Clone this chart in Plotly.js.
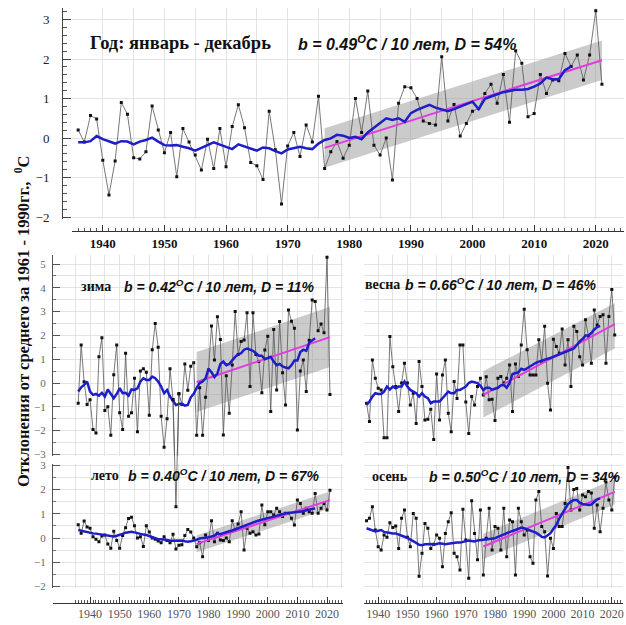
<!DOCTYPE html>
<html><head><meta charset="utf-8">
<script src="https://cdn.plot.ly/plotly-3.0.1.min.js"></script>
<style>html,body{margin:0;padding:0;background:#fff}#chart{width:626px;height:625px}</style>
</head><body><div id="chart"></div><script>
// ---------------- DATA ----------------
const years = [1936,1937,1938,1939,1940,1941,1942,1943,1944,1945,1946,1947,1948,1949,1950,1951,1952,1953,1954,1955,1956,1957,1958,1959,1960,1961,1962,1963,1964,1965,1966,1967,1968,1969,1970,1971,1972,1973,1974,1975,1976,1977,1978,1979,1980,1981,1982,1983,1984,1985,1986,1987,1988,1989,1990,1991,1992,1993,1994,1995,1996,1997,1998,1999,2000,2001,2002,2003,2004,2005,2006,2007,2008,2009,2010,2011,2012,2013,2014,2015,2016,2017,2018,2019,2020,2021];
const smoothYears = [1936,1937,1938,1939,1940,1941,1942,1943,1944,1945,1946,1947,1948,1949,1950,1951,1952,1953,1954,1955,1956,1957,1958,1959,1960,1961,1962,1963,1964,1965,1966,1967,1968,1969,1970,1971,1972,1973,1974,1975,1976,1977,1978,1979,1980,1981,1982,1983,1984,1985,1986,1987,1988,1989,1990,1991,1992,1993,1994,1995,1996,1997,1998,1999,2000,2001,2002,2003,2004,2005,2006,2007,2008,2009,2010,2011,2012,2013,2014,2015,2016];
const trendYears = [1976, 2021];

// Год
const annual = [0.20,-0.10,0.57,0.48,-0.56,-1.44,-0.58,0.90,0.60,-0.50,-0.53,-0.35,0.81,0.20,-0.37,0.14,-0.98,0.24,-0.10,-0.43,-0.81,-0.03,-0.77,0.24,-0.73,0.29,0.84,0.26,-0.62,-0.70,-1.05,0.68,-0.30,-1.67,-0.20,0.14,-0.47,0.33,-0.10,1.06,-0.77,-0.35,-0.09,-0.51,-0.18,1.00,0.14,1.19,-0.18,-0.43,0.00,-1.06,0.88,1.30,1.27,1.00,0.43,0.37,0.33,2.06,0.43,0.85,0.05,0.37,0.68,0.75,1.13,1.36,0.88,1.61,0.40,2.21,1.89,0.54,0.62,1.61,1.13,1.47,1.45,2.14,1.81,2.10,1.47,2.10,3.22,1.36];
const annualSmooth = [-0.11,-0.11,-0.08,0.05,-0.03,-0.08,-0.14,-0.08,-0.09,-0.16,-0.09,-0.05,0.01,-0.09,-0.18,-0.19,-0.18,-0.22,-0.26,-0.32,-0.24,-0.18,-0.11,-0.16,-0.22,-0.28,-0.16,-0.22,-0.26,-0.32,-0.24,-0.26,-0.33,-0.39,-0.29,-0.26,-0.22,-0.26,-0.28,-0.14,-0.05,-0.01,0.08,0.06,0.00,0.03,-0.03,0.14,0.26,0.37,0.50,0.46,0.50,0.41,0.63,0.71,0.77,0.84,0.77,0.73,0.68,0.73,0.79,0.85,0.92,0.73,0.99,1.05,1.11,1.16,1.19,1.22,1.22,1.24,1.30,1.38,1.53,1.49,1.49,1.72,1.81];
const annualTrend = [-0.25, 1.97];
const annualBandHi = [0.25, 2.47];
const annualBandLo = [-0.75, 1.47];

// зима
const winter = [-0.85,1.6,0.05,-0.9,-0.7,-1.95,-2.1,1.1,1.9,-1.15,-1.0,-2.2,0.35,1.6,-1.25,-1.95,1.25,-1.4,-1.25,0.2,-2.05,0.5,0.6,0.45,-1.35,1.4,2.5,1.5,-1.4,-2.7,-1.5,0.6,-0.7,-5.2,-0.45,-0.9,0.8,-0.3,0.7,0.85,-2.2,-0.2,-2.2,-0.6,0.55,2.4,0.97,2.78,1.83,-2.18,0.3,-1.27,0.76,3.0,1.2,1.74,1.81,2.95,-0.15,2.95,1.2,0.9,-0.41,1.39,1.97,-1.2,2.25,-0.29,2.58,0.43,-0.92,3.07,2.6,2.3,-1.97,0.5,0.97,-0.36,1.8,3.49,3.42,2.2,2.48,2.11,5.28,-0.48];
const winterSmooth = [-0.36,-0.18,-0.08,0.06,-0.36,-0.5,-0.46,-0.53,-0.41,-0.57,-0.27,-0.43,-0.64,-0.46,-0.22,-0.43,-0.41,-0.53,-0.27,-0.29,-0.22,0.06,0.2,0.13,0.13,0.27,0.2,0.06,-0.15,-0.43,-0.29,-0.57,-0.74,-0.92,-0.88,-0.86,-0.95,-0.92,-0.6,-0.45,-0.2,0.0,0.06,0.2,0.6,0.45,0.25,0.4,0.8,0.9,0.75,0.8,0.95,1.1,1.2,1.25,1.4,1.45,1.4,1.35,1.25,1.15,1.15,1.0,1.05,1.1,0.9,0.75,0.8,0.7,0.65,0.62,0.75,0.95,0.95,1.3,1.4,1.35,1.7,1.8,1.88];
const winterTrend = [0.04, 1.93];
const winterBandHi = [1.3, 3.2];
const winterBandLo = [-1.22, 0.67];

// весна
const spring = [-0.85,-1.62,0.97,0.2,-0.22,-0.29,-2.3,-2.3,1.95,0.68,-0.15,-1.2,0.0,0.83,0.0,-0.92,-0.43,-1.7,0.9,-0.15,-1.55,-1.52,-1.1,-2.37,0.38,-1.55,0.34,0.97,-1.27,-2.05,0.06,-0.65,1.6,1.6,-0.8,-2.12,-0.57,-0.92,-0.15,0.2,-0.5,0.26,-0.7,-0.68,-1.58,0.2,0.27,0.0,0.2,0.76,-1.2,0.8,0.27,1.6,3.1,1.4,0.34,0.34,0.34,1.82,0.9,2.38,-0.01,-1.13,1.84,1.53,1.25,2.27,0.76,1.82,-0.15,2.38,2.16,1.1,0.76,2.66,1.96,0.83,3.07,2.44,2.8,2.87,0.83,2.8,3.93,2.02];
const springSmooth = [-0.92,-0.78,-0.57,-0.43,-0.46,-0.46,-0.36,-0.15,-0.27,-0.15,-0.22,-0.15,-0.15,0.06,-0.15,-0.29,-0.36,-0.43,-0.57,-0.43,-0.57,-0.64,-0.85,-0.78,-0.78,-0.78,-0.64,-0.5,-0.36,-0.43,-0.43,-0.29,-0.29,-0.22,-0.15,0.0,0.06,0.03,0.0,-0.12,-0.29,-0.2,-0.2,-0.28,-0.25,-0.2,-0.1,-0.08,-0.2,0.0,0.38,0.41,0.45,0.6,0.55,0.62,0.7,0.78,0.85,0.9,0.95,1.0,1.02,1.05,1.1,1.15,1.2,1.25,1.3,1.35,1.42,1.45,1.6,1.75,1.85,2.0,2.0,2.1,2.25,2.35,2.4];
const springTrend = [-0.5, 2.47];
const springBandHi = [0.5, 3.35];
const springBandLo = [-1.45, 1.45];

// лето
const summer = [0.55,0.2,0.7,0.45,0.4,0.05,-0.05,-0.15,0.08,0.12,-0.25,-0.42,0.28,-0.1,-0.42,0.1,0.42,0.8,0.85,0.5,0.0,0.05,-0.35,0.5,0.25,0.0,-0.05,-0.12,-0.2,0.05,-0.1,-0.2,0.15,-0.45,-0.3,-0.28,0.1,0.35,0.25,0.0,-0.36,-0.2,-0.77,0.12,-0.1,0.71,-0.15,0.2,-0.08,-0.1,0.0,-0.15,0.71,0.33,0.58,1.08,-0.49,0.4,0.2,0.26,0.12,0.16,1.36,0.55,1.08,1.08,0.95,1.22,1.08,0.88,1.02,1.02,0.81,0.53,1.56,1.42,1.02,1.22,1.08,1.02,1.83,1.02,1.22,1.42,1.15,1.97];
const summerSmooth = [0.33,0.3,0.26,0.22,0.2,0.19,0.18,0.16,0.14,0.12,0.08,0.05,0.06,0.09,0.12,0.17,0.22,0.24,0.26,0.23,0.19,0.16,0.14,0.12,0.08,0.03,-0.01,-0.05,-0.05,-0.05,-0.08,-0.11,-0.1,-0.09,-0.08,-0.1,-0.13,-0.15,-0.13,-0.11,-0.07,-0.02,-0.01,-0.01,0.03,0.06,0.1,0.19,0.16,0.2,0.25,0.28,0.31,0.36,0.4,0.45,0.5,0.53,0.58,0.63,0.68,0.72,0.76,0.8,0.82,0.85,0.88,0.92,0.96,0.99,1.02,1.03,1.04,1.05,1.06,1.08,1.1,1.14,1.17,1.2,1.22];
const summerTrend = [-0.24, 1.56];
const summerBandHi = [0.11, 1.91];
const summerBandLo = [-0.59, 1.21];

// осень
const autumn = [0.71,0.81,1.29,0.33,-0.36,-0.49,0.12,0.03,0.63,0.43,0.49,-0.43,0.81,1.15,0.03,-0.36,1.01,0.81,-1.57,-0.63,0.6,0.4,-0.43,-0.26,0.12,-0.01,-1.18,0.19,0.67,1.04,-0.63,-0.77,-1.32,1.18,-0.08,-1.66,1.53,0.19,-0.9,1.15,-1.52,-0.01,1.22,-0.49,0.47,0.4,-0.49,1.22,-0.77,0.74,0.67,-1.52,1.22,0.67,0.12,0.33,-0.77,-1.04,1.56,1.91,0.47,0.26,-1.56,-0.01,-0.43,1.01,0.47,0.47,1.42,2.9,1.15,2.0,2.04,1.15,1.77,1.7,1.91,1.85,0.4,1.36,0.26,1.22,2.3,1.56,1.15,2.5];
const autumnSmooth = [0.4,0.35,0.3,0.27,0.3,0.33,0.25,0.22,0.2,0.19,0.19,0.15,0.12,0.05,0.0,-0.06,-0.12,-0.2,-0.28,-0.3,-0.26,-0.24,-0.25,-0.28,-0.26,-0.22,-0.24,-0.26,-0.24,-0.22,-0.19,-0.19,-0.19,-0.17,-0.15,-0.1,-0.12,-0.14,-0.1,-0.08,-0.08,-0.06,-0.05,-0.03,-0.01,0.05,0.1,0.16,0.22,0.26,0.29,0.33,0.38,0.43,0.4,0.36,0.33,0.26,0.22,0.14,0.05,0.02,0.1,0.2,0.38,0.53,0.8,1.0,1.2,1.4,1.5,1.56,1.56,1.45,1.4,1.38,1.36,1.38,1.5,1.59,1.63];
const autumnTrend = [-0.35, 1.9];
const autumnBandHi = [0.17, 2.42];
const autumnBandLo = [-0.87, 1.38];

// tick labels
const gridYears = [1935,1940,1945,1950,1955,1960,1965,1970,1975,1980,1985,1990,1995,2000,2005,2010,2015,2020,2025];
const gridYearLabels = ['','1940','','1950','','1960','','1970','','1980','','1990','','2000','','2010','','2020',''];
const rulerYears = [1935,1936,1937,1938,1939,1940,1941,1942,1943,1944,1945,1946,1947,1948,1949,1950,1951,1952,1953,1954,1955,1956,1957,1958,1959,1960,1961,1962,1963,1964,1965,1966,1967,1968,1969,1970,1971,1972,1973,1974,1975,1976,1977,1978,1979,1980,1981,1982,1983,1984,1985,1986,1987,1988,1989,1990,1991,1992,1993,1994,1995,1996,1997,1998,1999,2000,2001,2002,2003,2004,2005,2006,2007,2008,2009,2010,2011,2012,2013,2014,2015,2016,2017,2018,2019,2020,2021,2022,2023,2024,2025];
const tempTicks = [-3,-2,-1,0,1,2,3,4,5];

// ---------------- STYLE / LAYOUT ----------------
const W = 626, H = 625;
const fx = p => p / W;
const fy = p => 1 - p / H;
const SERIF = '"Liberation Serif", "Times New Roman", serif';
const SANS = '"Liberation Sans", Arial, sans-serif';
const GRID = '#e3e3e3';

function blackLine(xa, ya, xs, ys) {
  return {x: xs, y: ys, xaxis: xa, yaxis: ya, mode: 'lines+markers',
    line: {color: '#555', width: 0.8}, marker: {size: 3, color: '#111', symbol: 'square'},
    showlegend: false};
}
function panelTraces(xa, ya, data, smooth, trend, hi, lo) {
  return [
    {x: trendYears.concat(trendYears.slice().reverse()), y: hi.concat(lo.slice().reverse()),
     xaxis: xa, yaxis: ya, mode: 'lines', fill: 'toself', fillcolor: 'rgba(160,160,160,0.55)',
     line: {width: 0}, hoverinfo: 'skip', showlegend: false},
    blackLine(xa, ya, years, data),
    {x: trendYears, y: trend, xaxis: xa, yaxis: ya, mode: 'lines',
     line: {color: 'rgb(225,60,225)', width: 2}, showlegend: false},
    {x: smoothYears, y: smooth, xaxis: xa, yaxis: ya, mode: 'lines',
     line: {color: 'rgb(30,30,200)', width: 2.5}, showlegend: false}
  ];
}

// the winter 1969 value reaches below its panel: that stretch is also drawn on an overlay
const iDeep = years.indexOf(1969);
const traces = [].concat(
  panelTraces('x', 'y', annual, annualSmooth, annualTrend, annualBandHi, annualBandLo),
  panelTraces('x2', 'y2', winter, winterSmooth, winterTrend, winterBandHi, winterBandLo),
  panelTraces('x3', 'y3', spring, springSmooth, springTrend, springBandHi, springBandLo),
  panelTraces('x4', 'y4', summer, summerSmooth, summerTrend, summerBandHi, summerBandLo),
  panelTraces('x5', 'y5', autumn, autumnSmooth, autumnTrend, autumnBandHi, autumnBandLo),
  [blackLine('x6', 'y6', years.slice(iDeep - 1, iDeep + 2), winter.slice(iDeep - 1, iDeep + 2))]
);

// domains (pixels -> paper)
const topX = [fx(72), fx(623.5)], topY = [fy(219), fy(7.65)];
// left panels: plot area starts at the axis line (x=53), 2.962 px per year
const leftX = [fx(53), fx(343)], leftRange = [1927.49, 2025.4];
const rightX = [fx(364.2), fx(622.9)], rightRange = [1935.2, 2023.8];
const upY = [fy(455.6), fy(254.5)], lowY = [fy(587.8), fy(463.9)];
const upRange = [-3.05, 5.4], lowRange = [-2.05, 3.05];
const ovY = [lowY[0], upY[1]];
const ovBottom = upRange[1] - (upRange[1] - upRange[0]) * (ovY[1] - ovY[0]) / (upY[1] - upY[0]);

function gridX(domain, range, anchor) {
  return {domain: domain, range: range, tickmode: 'array', tickvals: gridYears, ticktext: gridYearLabels,
    showgrid: true, gridcolor: GRID, zeroline: false, fixedrange: true,
    anchor: anchor, showline: false, ticks: '', showticklabels: false};
}
function rulerX(domain, range, pos, bold) {
  const a = gridX(domain, range, 'free');
  Object.assign(a, {
    position: pos, showline: true, linecolor: '#333', linewidth: 1,
    ticks: 'inside', ticklen: 6, tickcolor: '#333', tickwidth: 1,
    minor: {tickmode: 'array', tickvals: rulerYears, ticks: 'inside', ticklen: 3, tickcolor: '#555', showgrid: false},
    tickfont: bold ? {family: SERIF, size: 13, color: '#111', weight: 'bold'} : {family: SERIF, size: 12, color: '#555'},
    showticklabels: true
  });
  return a;
}
function panelY(domain, range, anchor, labelled) {
  const a = {domain: domain, range: range, tickmode: 'array', tickvals: tempTicks,
    showgrid: true, gridcolor: GRID, zeroline: false, fixedrange: true, anchor: anchor,
    minor: {dtick: 0.5, tick0: 0, showgrid: true, gridcolor: GRID, ticks: labelled ? 'inside' : '', ticklen: 3, tickcolor: '#777'}};
  if (labelled) {
    Object.assign(a, {showline: true, linecolor: '#555', linewidth: 1, ticks: 'inside', ticklen: 7,
      tickcolor: '#555', showticklabels: true, ticklabelstandoff: 4,
      tickfont: {family: SERIF, size: 11, color: '#666'}});
  } else {
    Object.assign(a, {showline: false, ticks: '', showticklabels: false});
  }
  return a;
}

const layout = {
  width: W, height: H, margin: {l: 0, r: 0, t: 0, b: 0},
  paper_bgcolor: '#fff', plot_bgcolor: 'rgba(0,0,0,0)', showlegend: false,
  xaxis: rulerX(topX, [1935, 2024.5], fy(231), true),
  yaxis: {domain: topY, range: [-2.05, 3.3], dtick: 1, tick0: 0, anchor: 'free', position: fx(62),
    showgrid: true, gridcolor: GRID, zeroline: false, fixedrange: true,
    showline: true, linecolor: '#444', linewidth: 1, ticks: 'inside', ticklen: 8, tickcolor: '#444',
    minor: {dtick: 0.2, ticks: 'inside', ticklen: 4, tickcolor: '#555', showgrid: false},
    ticklabelstandoff: 10, tickfont: {family: SERIF, size: 13, color: '#222'}},
  xaxis2: gridX(leftX, leftRange, 'y2'),
  yaxis2: panelY(upY, upRange, 'x2', true),
  xaxis3: gridX(rightX, rightRange, 'y3'),
  yaxis3: panelY(upY, upRange, 'x3', false),
  xaxis4: rulerX(leftX, leftRange, fy(603), false),
  yaxis4: panelY(lowY, lowRange, 'x4', true),
  xaxis5: rulerX(rightX, rightRange, fy(603), false),
  yaxis5: panelY(lowY, lowRange, 'x5', false),
  xaxis6: {domain: leftX, range: leftRange, visible: false, anchor: 'y6', fixedrange: true, showgrid: false},
  yaxis6: {domain: ovY, range: [ovBottom, upRange[1]], visible: false, anchor: 'x6', fixedrange: true, showgrid: false},
  annotations: []
};

function label(txt, x, y, font) {
  layout.annotations.push({text: txt, x: x, y: y, xref: 'paper', yref: 'paper',
    xanchor: 'left', yanchor: 'middle', showarrow: false, font: font});
}
const serifB = s => ({family: SERIF, size: s, color: '#111', weight: 'bold'});
const sansBI = s => ({family: SANS, size: s, color: '#111', weight: 'bold', style: 'italic'});

label('Год: январь - декабрь', fx(88), fy(43), serifB(18.5));
label('b = 0.49<sup>O</sup>C / 10 лет, D = 54%', fx(296), fy(43), sansBI(16));
label('зима', fx(79), fy(286), serifB(14));
label('b = 0.42<sup>O</sup>C / 10 лет, D = 11%', fx(122), fy(286), sansBI(14));
label('весна', fx(363), fy(284), serifB(14));
label('b = 0.66<sup>O</sup>C / 10 лет, D = 46%', fx(403), fy(284), sansBI(14));
label('лето', fx(89), fy(475), serifB(14));
label('b = 0.40<sup>O</sup>C / 10 лет, D = 67%', fx(126), fy(475), sansBI(14));
label('осень', fx(370), fy(476), serifB(14));
label('b = 0.50<sup>O</sup>C / 10 лет, D = 34%', fx(427), fy(476), sansBI(14));

layout.annotations.push({
  text: 'Отклонения от среднего за 1961 - 1990гг.,  <sup>0</sup>C',
  x: fx(22), y: fy(322), xref: 'paper', yref: 'paper', textangle: -90,
  xanchor: 'center', yanchor: 'middle', showarrow: false, font: serifB(16.5)
});

Plotly.newPlot('chart', traces, layout, {staticPlot: true, displayModeBar: false});
</script></body></html>
